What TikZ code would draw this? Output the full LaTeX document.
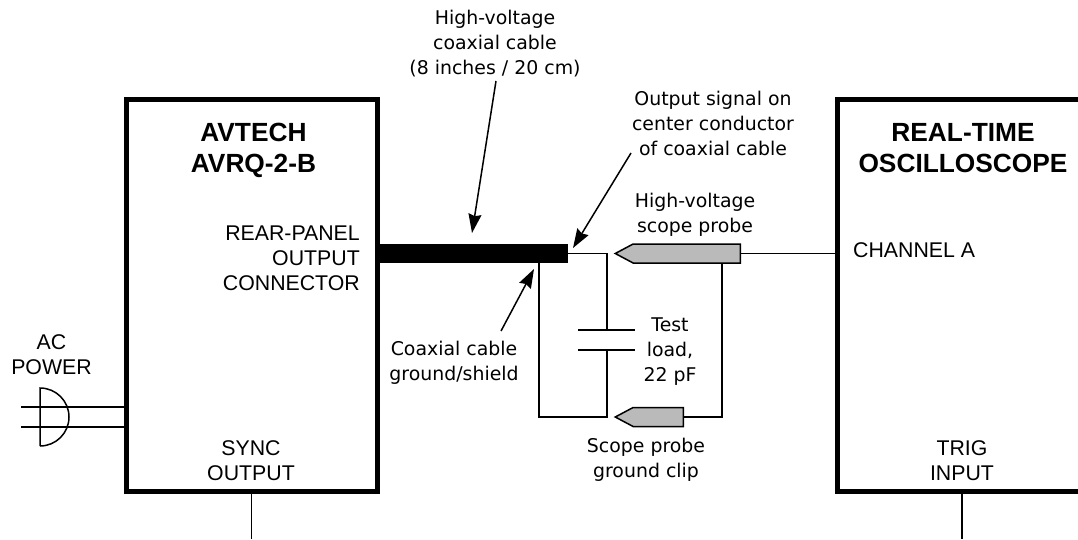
\documentclass[tikz,border=0pt]{standalone}
\usepackage{fontspec}
\setmainfont{DejaVu Sans}
\newfontfamily\capsfont{Liberation Sans}
\usetikzlibrary{positioning,arrows.meta,shapes.symbols}

\begin{document}
\begin{tikzpicture}[
  x=1pt, y=1pt,
  font=\fontsize{18.9}{25}\selectfont,
  box/.style={draw, line width=5pt, minimum width=251pt, minimum height=392pt, inner sep=0pt},
  lbl/.style={align=center, inner sep=0pt},
  caps/.style={lbl, font=\capsfont\fontsize{21.3}{25}\selectfont},
  head/.style={lbl, font=\capsfont\fontsize{26.3}{31}\selectfont\bfseries},
  wire/.style={line width=1.5pt},
  tip/.style={signal, signal to=west, signal from=nowhere, signal pointer angle=56, draw, wire, fill=black!27, minimum height=19pt, inner sep=0pt},
  ar/.style={-{Stealth[length=19pt,width=13pt,inset=2pt]}, line width=1.5pt},
]
\useasboundingbox (0,0) rectangle (1078,539);
% --- instruments ---
\node[box] (avtech) at (251.5,243.5) {};
\node[box, minimum width=300pt] (scope) at (987,243.5) {};
\node[head] (avname) at (253.5,389) {AVTECH\\AVRQ-2-B};
\node[head] (scname) at (963,390.5) {REAL-TIME\\OSCILLOSCOPE};
\node[caps, align=right, anchor=east] (rear) at (360,281) {REAR-PANEL\\OUTPUT\\CONNECTOR};
\node[caps, anchor=west] (cha) at (853,289) {CHANNEL A};
\node[caps] (sync) at (251,78) {SYNC\\OUTPUT};
\node[caps] (trig) at (962,78) {TRIG\\INPUT};
\node[caps] (acp) at (51.5,184) {AC\\POWER};
% --- cable and probes ---
\node[fill=black, minimum width=191pt, minimum height=19pt, inner sep=0pt] (cable) at (472.5,285.5) {};
\node[tip, minimum width=125pt, anchor=east] (probe) at (741,285.5) {};
\node[tip, minimum width=68pt, anchor=east] (clip) at (684,122) {};
\coordinate (plateA) at (607,209);
\coordinate (plateB) at (607,189);
\coordinate (shield) at (539,276);
\coordinate (branch) at (722,276);
\draw[wire] (cable.east) -- (607,285.5) -- (plateA);
\draw[wire] (plateB) -- (607,122) -- (539,122) -- (shield);
\draw[wire] (578,209) -- (635,209);
\draw[wire] (578,189) -- (635,189);
\draw[wire] (probe.east) -- (scope.west |- probe.east);
\draw[wire] (branch) -- (722,122) -- (clip.east);
\draw[wire] (avtech.south |- 0,47) -- (251.5,0);
\draw[wire] (962,47) -- (962,0);
% --- power plug ---
\draw[wire] (21,132) -- (avtech.west |- 0,132);
\draw[wire] (21,112) -- (avtech.west |- 0,112);
\draw[wire] (40,93) -- (40,151) arc[start angle=90, end angle=-90, radius=29] ;
% --- callouts ---
\node[lbl] (hvcable) at (495,495.5) {High-voltage\\coaxial cable\\(8 inches / 20 cm)};
\node[lbl] (signal) at (713,416) {Output signal on\\center conductor\\of coaxial cable};
\node[lbl] (hvprobe) at (695,324.5) {High-voltage\\scope probe};
\node[lbl] (shieldtxt) at (454,176) {Coaxial cable\\ground/shield};
\node[lbl] (loadtxt) at (670,187) {Test\\load,\\22 pF};
\node[lbl] (cliptxt) at (646,79) {Scope probe\\ground clip};
\draw[ar] (496,458) -- (472,306);
\draw[ar] (631,386) -- (573,291);
\draw[ar] (501,208) -- (534,270);
\end{tikzpicture}
\end{document}
